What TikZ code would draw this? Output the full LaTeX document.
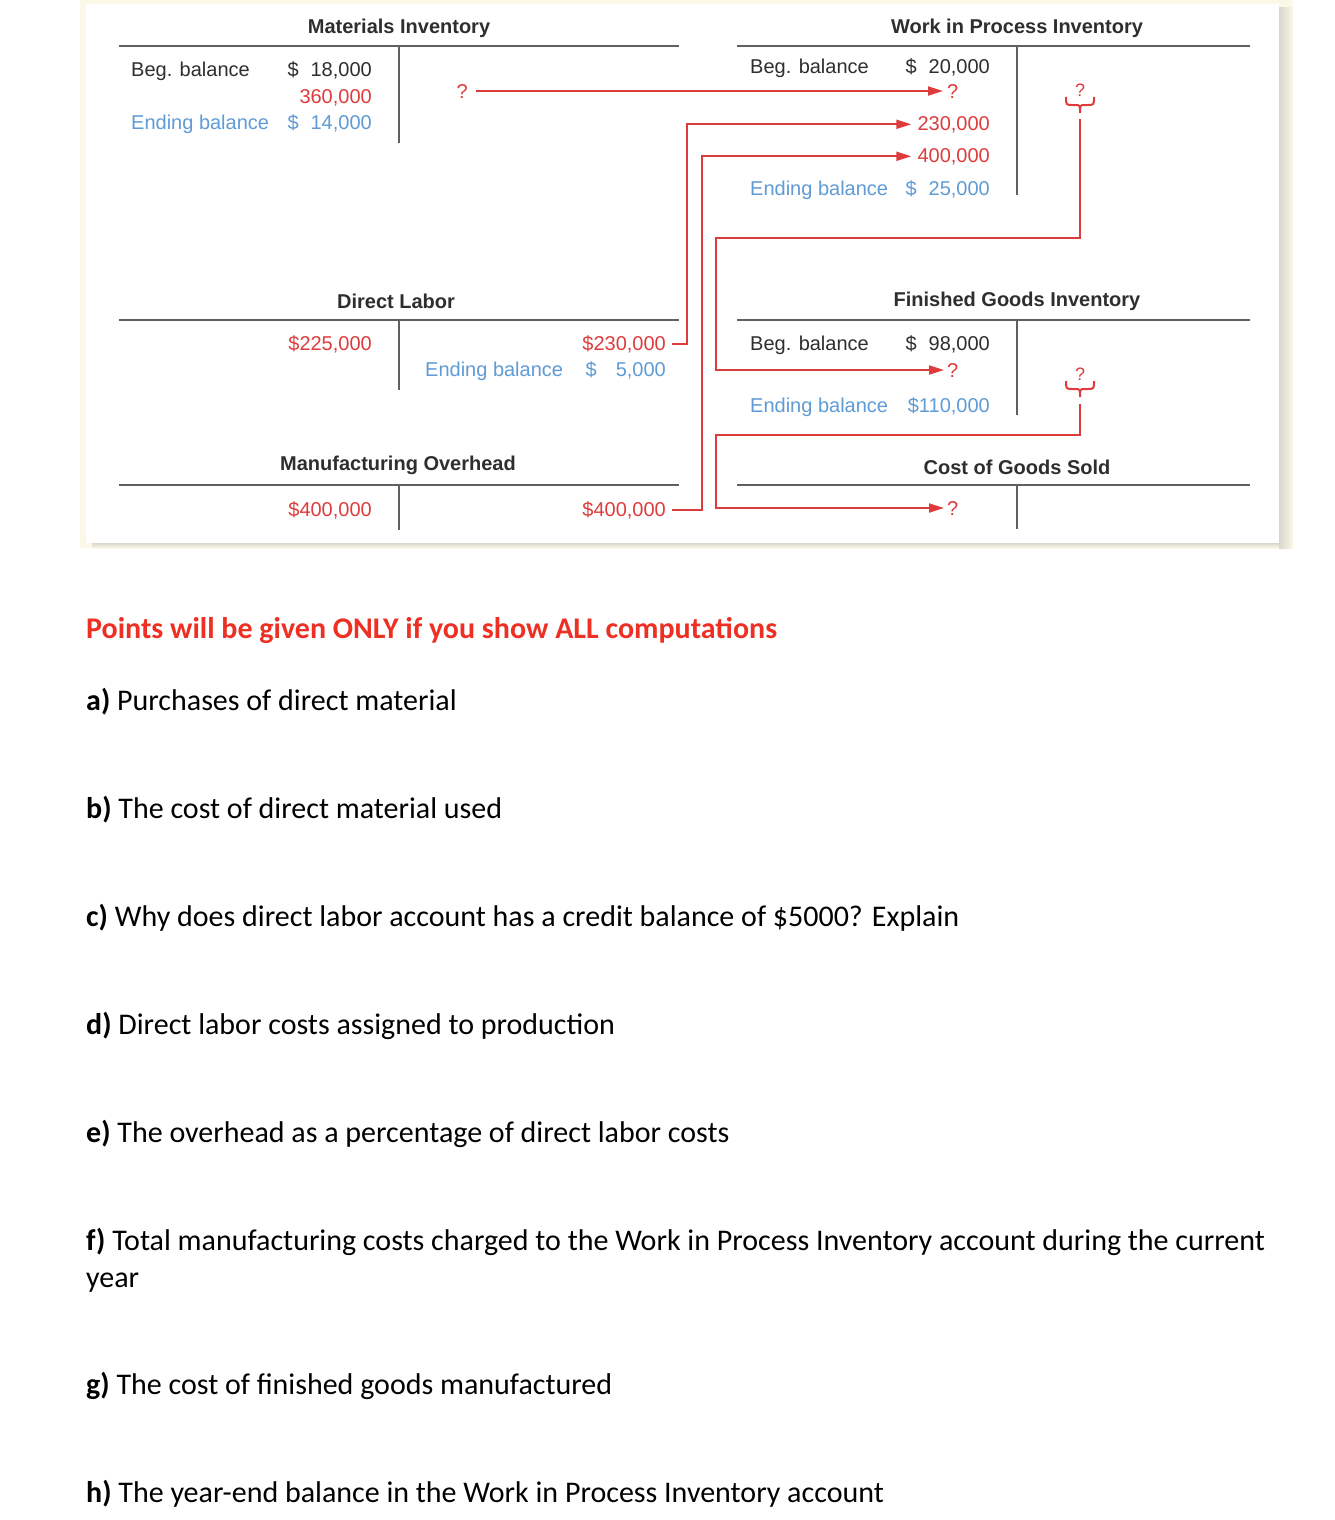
\documentclass[tikz,border=0pt]{standalone}
\usepackage{fontspec}
\setmainfont{Liberation Sans}
\newfontfamily\qfont{Carlito}
\usetikzlibrary{arrows.meta,calc,positioning}
\definecolor{acred}{HTML}{DE3C3C}
\definecolor{acblue}{HTML}{5F9BD5}
\definecolor{acdark}{HTML}{2E2E2E}
\definecolor{acrule}{HTML}{606060}
\definecolor{qred}{HTML}{EE3024}
\definecolor{shade}{HTML}{D8D7CD}
\definecolor{glow}{HTML}{FAF8E6}
\newcommand{\dol}{\$\hspace{12pt}}

\begin{document}
\begin{tikzpicture}[
  x=1pt,y=-1pt,
  >={Triangle[length=15pt,width=9pt]},
  entry/.style={inner sep=0pt,text=acdark,font=\fontsize{20}{24}\selectfont},
  lbl/.style={entry,anchor=base west},
  amt/.style={entry,anchor=base east},
  posted/.style={text=acred},
  bal/.style={text=acblue},
  head/.style={inner sep=0pt,text=acdark,font=\bfseries\fontsize{20}{24}\selectfont},
  sumq/.style={inner sep=0pt,text=acred,font=\fontsize{18}{18}\selectfont},
  tline/.style={draw=acrule,line width=1.6pt},
  link/.style={draw=acred,line width=2pt},
  brc/.style={draw=acred,line width=2pt},
  ques/.style={inner sep=0pt,anchor=base west,font=\qfont\fontsize{30}{37}\selectfont}
]
  % page and panel
  \useasboundingbox (0,0) rectangle (1334,1520);
  \fill[white] (0,0) rectangle (1334,1520);
  \fill[glow] (80,0) rectangle (1293,548);
  \shade[left color=shade,right color=glow] (1279,8) rectangle (1293,548);
  \shade[top color=shade,bottom color=glow] (92,543) rectangle (1279,548);
  \fill[white] (86,4) rectangle (1279,543);

  % Materials Inventory
  \node[head] (mititle) at (399,28) {Materials Inventory};
  \draw[tline] (119,46) -- (679,46) (399,46) -- (399,143);
  \node[lbl] (mibeg) at (131,77) {Beg. balance};
  \node[amt] (mibegamt) at (372,77) {\dol18,000};
  \node[amt,posted] (mipost) at (372,103) {360,000};
  \node[lbl,bal] (miend) at (131,129) {Ending balance};
  \node[amt,bal] (miendamt) at (372,129) {\dol14,000};
  \node[amt,posted] (miq) at (468,98) {?};

  % Work in Process Inventory
  \node[head] (wiptitle) at (1017,28) {Work in Process Inventory};
  \draw[tline] (737,46) -- (1250,46) (1017,46) -- (1017,195);
  \node[lbl] (wipbeg) at (750,74) {Beg. balance};
  \node[amt] (wipbegamt) at (990,74) {\dol20,000};
  \node[lbl,posted] (wipq) at (947,98) {?};
  \node[amt,posted] (wipdl) at (990,130) {230,000};
  \node[amt,posted] (wipoh) at (990,162) {400,000};
  \node[lbl,bal] (wipend) at (750,195) {Ending balance};
  \node[amt,bal] (wipendamt) at (990,195) {\dol25,000};
  \node[sumq] (wipsum) at (1080,90) {?};
  \draw[brc] (1066,97) .. controls (1066,105) .. (1073,105) -- (1075,105)
    .. controls (1080,105) .. (1080,113) .. controls (1080,105) .. (1085,105)
    -- (1087,105) .. controls (1094,105) .. (1094,97);
  \coordinate (wiptip) at (1080,119);
  \coordinate (wipbend) at (716,238);

  % Direct Labor
  \node[head] (dltitle) at (396,301) {Direct Labor};
  \draw[tline] (119,320) -- (679,320) (399,320) -- (399,390);
  \node[amt,posted] (dldr) at (372,350) {\$225,000};
  \node[amt,posted] (dlcr) at (666,350) {\$230,000};
  \node[lbl,bal] (dlend) at (425,376) {Ending balance};
  \node[amt,bal] (dlendamt) at (666,376) {\$\hspace{19pt}5,000};

  % Finished Goods Inventory
  \node[head] (fgtitle) at (1017,301) {Finished Goods Inventory};
  \draw[tline] (737,320) -- (1250,320) (1017,320) -- (1017,415);
  \node[lbl] (fgbeg) at (750,350) {Beg. balance};
  \node[amt] (fgbegamt) at (990,350) {\dol98,000};
  \node[lbl,posted] (fgq) at (947,377) {?};
  \node[lbl,bal] (fgend) at (750,412) {Ending balance};
  \node[amt,bal] (fgendamt) at (990,412) {\$110,000};
  \node[sumq] (fgsum) at (1080,374) {?};
  \draw[brc] (1066,381) .. controls (1066,389) .. (1073,389) -- (1075,389)
    .. controls (1080,389) .. (1080,397) .. controls (1080,389) .. (1085,389)
    -- (1087,389) .. controls (1094,389) .. (1094,381);
  \coordinate (fgtip) at (1080,404);
  \coordinate (fgbend) at (716,435);

  % Manufacturing Overhead
  \node[head] (ohtitle) at (398,465) {Manufacturing Overhead};
  \draw[tline] (119,485) -- (679,485) (399,485) -- (399,530);
  \node[amt,posted] (ohdr) at (372,516) {\$400,000};
  \node[amt,posted] (ohcr) at (666,516) {\$400,000};

  % Cost of Goods Sold
  \node[head] (cgtitle) at (1017,467) {Cost of Goods Sold};
  \draw[tline] (737,485) -- (1250,485) (1017,485) -- (1017,529);
  \node[lbl,posted] (cgq) at (947,515) {?};

  % cost flows
  \draw[link,->,shorten <=8pt,shorten >=4pt] (miq) -- (wipq);
  \draw[link,->] ([xshift=6pt]dlcr.east) -- ++(15,0) |- ([xshift=-6pt]wipdl.west);
  \draw[link,->] ([xshift=6pt]ohcr.east) -- ++(30,0) |- ([xshift=-6pt]wipoh.west);
  \draw[link,->] (wiptip) |- (wipbend) |- ([xshift=-3pt]fgq.west);
  \draw[link,->] (fgtip) |- (fgbend) |- ([xshift=-3pt]cgq.west);

  % questions
  \node[ques,text=qred,font=\qfont\bfseries\fontsize{30}{37}\selectfont] (qhead) at (86,638)
    {Points will be given ONLY if you show ALL computations};
  \node[ques] (qa) at (86,710) {\textbf{a)} Purchases of direct material};
  \node[ques] (qb) at (86,818) {\textbf{b)} The cost of direct material used};
  \node[ques] (qc) at (86,926) {\textbf{c)} Why does direct labor account has a credit balance of \$5000? Explain};
  \node[ques] (qd) at (86,1034) {\textbf{d)} Direct labor costs assigned to production};
  \node[ques] (qe) at (86,1142) {\textbf{e)} The overhead as a percentage of direct labor costs};
  \node[ques] (qf) at (86,1250) {\textbf{f)} Total manufacturing costs charged to the Work in Process Inventory account during the current};
  \node[ques] (qfyr) at (86,1287) {year};
  \node[ques] (qg) at (86,1394) {\textbf{g)} The cost of finished goods manufactured};
  \node[ques] (qh) at (86,1502) {\textbf{h)} The year-end balance in the Work in Process Inventory account};
\end{tikzpicture}
\end{document}
